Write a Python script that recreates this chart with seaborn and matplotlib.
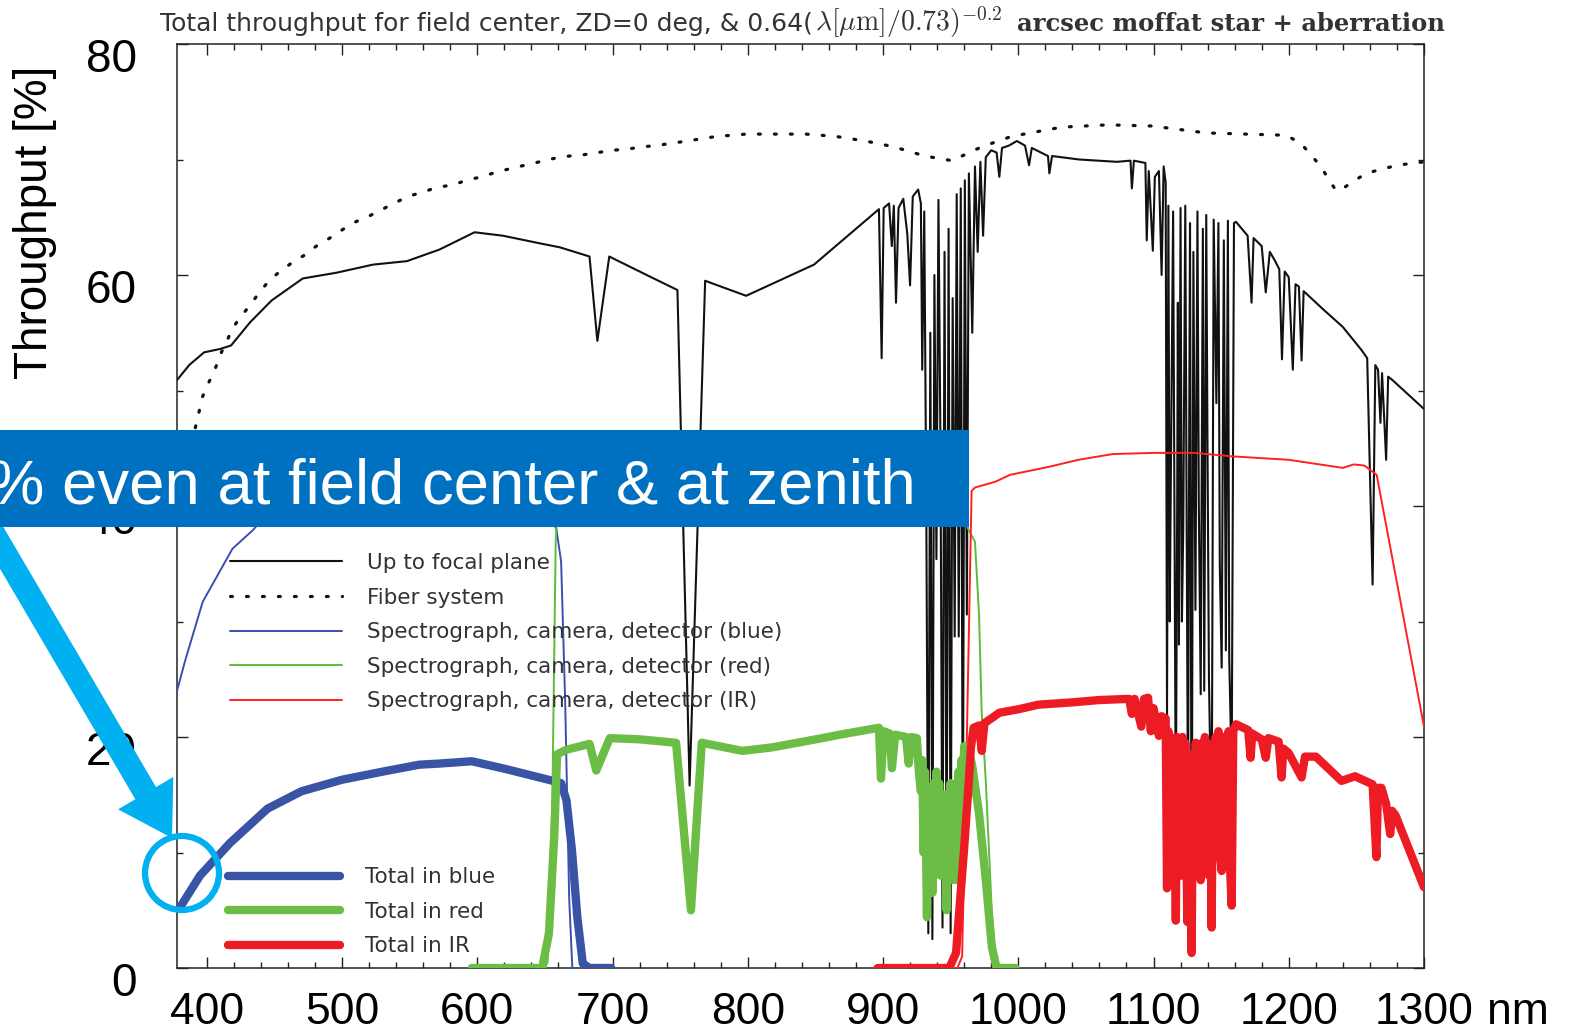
import matplotlib
matplotlib.use("Agg")
import numpy as np
import matplotlib.pyplot as plt
import seaborn as sns
from matplotlib.patches import Rectangle, Circle, FancyArrow
from matplotlib.lines import Line2D
from matplotlib.transforms import IdentityTransform, ScaledTranslation

# ---------------- data (wavelength nm, throughput %) ----------------
focal = [(378, 50.9), (387, 52.2), (398, 53.3), (410, 53.6), (418, 53.9), (432, 55.9), (448, 57.8),
         (471, 59.7), (496, 60.2), (523, 60.9), (548, 61.2), (572, 62.2), (598, 63.7), (619, 63.4),
         (648, 62.7), (661, 62.4), (683, 61.6), (688.8, 54.3), (697.6, 61.6), (727, 59.9), (748, 58.7),
         (757, 15.8), (768.5, 59.5), (798.8, 58.2), (849, 60.9), (897, 65.7), (899, 52.8), (900.5, 65.8),
         (904.5, 66.2), (906.5, 62.5), (908, 66.0), (909.6, 57.6), (911.5, 65.8), (915, 66.6), (918, 63.5),
         (920, 59.1), (922, 66.8), (926, 67.4), (928, 66.2), (929, 51.8), (930.5, 65.5), (932, 40.0),
         (933.5, 3.0), (935, 55.0), (936.5, 2.5), (938, 60.0), (939.5, 35.4), (941, 66.5), (942.5, 45.0),
         (944, 3.5), (945.5, 62.0), (947, 5.0), (948.5, 64.0), (950, 3.0), (951.5, 58.0), (953, 28.7),
         (954.5, 67.0), (956, 28.7), (957.5, 67.5), (959, 8.0), (960.5, 68.2), (962, 30.6), (963.5, 68.8),
         (966, 55.0), (968, 69.4), (970, 62.0), (972, 69.8), (974, 63.4), (976, 70.2), (980, 70.8),
         (984, 70.6), (986, 68.5), (988, 71.0), (993, 71.2), (999, 71.6), (1005, 71.2), (1008, 69.5),
         (1010, 71.0), (1022, 70.3), (1023, 68.8), (1025, 70.3), (1045, 70.0), (1073, 69.8), (1083, 69.9),
         (1084, 67.5), (1085.5, 69.9), (1094, 69.7), (1095, 63.0), (1096.5, 69.0), (1099.5, 62.1),
         (1101, 68.5), (1104, 69.0), (1106, 60.0), (1107.5, 69.4), (1109, 68.0), (1110, 21.6),
         (1111, 66.0), (1112, 30.0), (1113, 45.0), (1114.5, 65.5), (1116.5, 13.0), (1117.5, 40.0),
         (1118, 57.6), (1118.8, 28.0), (1120, 65.8), (1121, 30.0), (1122, 38.0), (1123.5, 66.0),
         (1125.5, 12.5), (1126.5, 50.0), (1127, 64.5), (1128.2, 4.0), (1129.5, 62.0), (1131, 31.0),
         (1132.5, 65.5), (1133.5, 40.2), (1134.9, 23.7), (1136.5, 64.0), (1137.5, 24.0), (1139, 65.2),
         (1140, 43.7), (1141, 25.0), (1143, 11.0), (1144.5, 64.8), (1146.5, 48.9), (1148, 64.5),
         (1149, 35.0), (1150.4, 26.0), (1152, 63.0), (1153.5, 27.5), (1155, 64.7), (1156, 26.8),
         (1157.8, 17.0), (1159.5, 64.5), (1161, 64.6), (1169.6, 63.4), (1172.5, 57.6), (1174, 63.2),
         (1180, 62.5), (1183, 58.5), (1186, 62.0), (1189.5, 61.3), (1193, 60.5), (1195, 52.7), (1197, 60.3),
         (1200, 59.8), (1203, 51.8), (1205, 59.2), (1207.5, 59.0), (1209.5, 52.6), (1211, 58.6),
         (1225.7, 57.0), (1240, 55.5), (1253.8, 53.5), (1258, 52.8), (1262, 33.2), (1264, 52.2),
         (1266, 51.8), (1267.8, 47.2), (1269, 51.5), (1272, 44.0), (1273.5, 51.2), (1276.7, 50.9),
         (1300, 48.4)]

fiber = [(380, 40.0), (386, 44.0), (392, 47.0), (397, 49.5), (401.5, 50.7), (406, 51.8), (410, 53.1),
         (415, 54.3), (419, 55.4), (426, 56.5), (432, 57.4), (439, 58.5), (446, 59.5), (454, 60.3),
         (463.5, 61.1), (472, 61.7), (481, 62.5), (491, 63.2), (500, 63.9), (510, 64.6), (520, 65.1),
         (530, 65.7), (540, 66.3), (549, 66.8), (560, 67.2), (571, 67.6), (582, 67.8), (592, 68.2),
         (603, 68.5), (614, 68.9), (624, 69.2), (635, 69.5), (646, 69.8), (657, 70.1), (668, 70.3),
         (678, 70.4), (689, 70.6), (700, 70.8), (711, 70.9), (722, 71.1), (732, 71.2), (755, 71.6),
         (777, 72.0), (799, 72.2), (821, 72.2), (843, 72.2), (865, 72.0), (887, 71.6), (908, 71.1),
         (931, 70.3), (951, 69.9), (973, 71.1), (995, 72.0), (1032, 72.8), (1066, 73.0), (1099, 72.9),
         (1139, 72.3), (1198, 72.1), (1209, 71.4), (1223, 69.5), (1235, 67.3), (1240, 67.5),
         (1257, 68.8), (1280, 69.5), (1300, 69.8)]

spec_blue = [(378, 24.0), (384, 26.6), (397, 31.7), (419, 36.3), (434, 37.9), (450, 40.0), (480, 40.8),
             (520, 41.5), (560, 42.5), (600, 41.6), (630, 41.0), (650, 40.0), (658.5, 38.0), (662, 35.2),
             (665, 23.1), (668, 5.9), (670.3, 0.0), (700, 0.0)]

spec_red = [(596, 0.0), (650, 0.0), (652, 0.5), (655.5, 14.5), (658, 36.9), (660, 41.5), (670, 43.5),
            (700, 45.5), (750, 46.2), (800, 45.8), (850, 45.2), (900, 44.2), (940, 42.0), (958, 40.0),
            (963, 38.0), (968, 36.9), (971, 30.6), (973, 22.0), (976, 16.2), (980.5, 4.7), (983.5, 0.0),
            (998, 0.0)]

spec_ir = [(896, 0.0), (955, 0.0), (958.5, 1.0), (962, 20.0), (965.5, 41.3), (968, 41.6), (983, 42.1),
           (994, 42.7), (1023, 43.4), (1044.5, 44.0), (1070, 44.5), (1101, 44.6), (1130, 44.6),
           (1158, 44.3), (1200, 44.0), (1240, 43.3), (1248, 43.6), (1256, 43.5), (1265, 42.7), (1300, 20.9)]

total_blue = [(380, 5.2), (395, 8.0), (417, 10.8), (445, 13.8), (470, 15.3), (500, 16.3), (530, 17.0),
              (557, 17.6), (572, 17.7), (596, 17.9), (622, 17.2), (656, 16.2), (662, 16.0), (666, 14.5),
              (670, 10.2), (674, 4.4), (678, 0.4), (683, 0.0), (699, 0.0)]

total_red = [(596, 0.0), (648, 0.0), (653, 3.0), (657, 11.6), (659, 18.5), (666, 18.9), (683, 19.4),
             (688, 17.1), (698, 19.9), (720, 19.8), (747, 19.5), (758, 5.0), (766, 19.5), (796, 18.8),
             (818, 19.1), (855, 19.9), (868, 20.2), (897, 20.8), (898.5, 16.4), (900.5, 20.5), (905, 20.3),
             (906.6, 17.3), (909, 20.2), (917, 20.0), (919, 17.7), (921, 20.0), (925, 19.9), (926.5, 17.0),
             (928, 15.3), (929, 18.0), (930, 10.0), (931, 17.0), (932.5, 4.4), (933.5, 15.0), (934.5, 8.0),
             (935.5, 14.0), (936.5, 6.5), (937.5, 16.0), (938.5, 10.0), (939.5, 17.0), (940.5, 9.9),
             (941.5, 16.0), (942.5, 8.0), (943.5, 12.0), (944.5, 10.0), (945.5, 15.0), (947, 5.0),
             (948, 14.0), (949, 9.0), (950, 16.0), (951, 7.6), (952, 15.0), (953, 9.0), (954, 16.0),
             (954.8, 7.6), (955.8, 17.0), (957, 11.0), (958, 18.0), (959, 14.0), (960, 19.2), (962, 19.1),
             (965.7, 17.7), (971, 13.4), (976, 7.6), (980.5, 1.8), (984, 0.0), (998, 0.0)]

total_ir = [(896, 0.0), (949, 0.0), (954, 1.3), (960, 10.4), (963.5, 16.2), (965, 19.1), (967, 20.8),
            (971, 21.0), (973, 18.8), (975, 21.2), (980, 21.6), (986, 22.1), (1000, 22.4), (1015, 22.8),
            (1040, 23.0), (1060, 23.2), (1082, 23.3), (1084, 22.0), (1086, 23.3), (1091, 20.9),
            (1093, 23.3), (1096, 23.4), (1098, 20.5), (1100, 22.5), (1104, 20.1), (1106, 21.8),
            (1109, 21.6), (1110, 6.9), (1111, 20.5), (1112, 9.5), (1113, 20.0), (1114, 8.5), (1115, 19.5),
            (1116.5, 4.1), (1117.5, 20.0), (1118.5, 9.0), (1119.5, 19.0), (1120.5, 8.0), (1121.5, 20.0),
            (1122.5, 10.0), (1123.5, 19.5), (1125, 4.0), (1126, 18.0), (1127, 8.0), (1128.2, 1.3),
            (1129.3, 18.5), (1130.3, 9.0), (1131.3, 19.5), (1132.3, 10.0), (1133.3, 19.0), (1134.9, 7.6),
            (1136, 19.5), (1137, 9.5), (1138, 20.0), (1139, 11.0), (1140, 19.5), (1141, 8.0), (1142, 18.0),
            (1143, 3.5), (1144, 19.0), (1145, 10.5), (1146, 20.0), (1147, 12.0), (1148, 20.5),
            (1149, 10.0), (1150.4, 8.4), (1151.5, 20.0), (1152.5, 10.5), (1153.5, 20.0), (1154.5, 11.5),
            (1155.5, 20.5), (1156.5, 9.0), (1157.8, 5.4), (1159, 20.5), (1161, 21.1), (1170, 20.6),
            (1171.8, 18.2), (1173, 20.3), (1180, 19.8), (1183, 18.2), (1185, 19.9), (1192.5, 19.6),
            (1194.7, 16.5), (1196, 19.0), (1200, 18.6), (1209.5, 16.5), (1212, 18.3), (1220, 18.3),
            (1230, 17.2), (1239, 16.2), (1249, 16.6), (1262, 15.9), (1264.8, 9.6), (1266, 15.6),
            (1268.5, 15.6), (1272, 14.2), (1275, 11.6), (1276.5, 13.6), (1279, 13.2), (1300, 7.0)]

x_tick_vals = [400, 500, 600, 700, 800, 900, 1000, 1100, 1200, 1300]
x_tick_labels = ["400", "500", "600", "700", "800", "900", "1000", "1100", "1200", "1300"]
y_tick_vals = [0, 20, 40, 60, 80]
y_tick_labels = ["0", "20", "40", "60", "80"]

legend1_labels = ["Up to focal plane", "Fiber system", "Spectrograph, camera, detector (blue)",
                  "Spectrograph, camera, detector (red)", "Spectrograph, camera, detector (IR)"]
legend2_labels = ["Total in blue", "Total in red", "Total in IR"]

title_left = "Total throughput for field center, ZD=0 deg, & 0.64("
title_math = r"$\lambda[\mu{\rm m}]/0.73)^{-0.2}$"
title_right = "arcsec moffat star + aberration"
banner_text = "% even at field center & at zenith"

# ---------------- styles ----------------
C_BLACK = "#111111"
C_BLUE_T, C_GREEN_T, C_RED_T = "#3b4fb0", "#5dbb3c", "#ff2020"
C_BLUE, C_GREEN, C_RED = "#3953a5", "#6cbd45", "#ed1c24"
DOT = (0, (0.6, 4.4))

sns.set_theme(style="ticks")
plt.rcParams["font.family"] = ["Liberation Sans", "DejaVu Sans"]
plt.rcParams["axes.linewidth"] = 1.1
plt.rcParams["axes.edgecolor"] = "#222222"

W, H = 1573, 1035
fig = plt.figure(figsize=(W / 100, H / 100), dpi=100)
fig.patch.set_facecolor("white")
ax = fig.add_axes([177 / W, 1 - 968 / H, (1424 - 177) / W, (968 - 44) / H])
ax.set_facecolor("white")


def draw(series, color, lw, z, ls="-"):
    xs, ys = zip(*series)
    sns.lineplot(x=list(xs), y=list(ys), ax=ax, color=color, lw=lw, sort=False,
                 estimator=None, zorder=z)
    ln = ax.lines[-1]
    ln.set_solid_joinstyle("round")
    ln.set_solid_capstyle("round")
    if ls != "-":
        ln.set_linestyle(ls)
        ln.set_dash_capstyle("round")


draw(focal, C_BLACK, 1.5, 2)
draw(fiber, C_BLACK, 2.3, 2, DOT)
draw(spec_blue, C_BLUE_T, 1.4, 3)
draw(spec_red, C_GREEN_T, 1.4, 3)
draw(spec_ir, C_RED_T, 1.4, 3)
draw(total_blue, C_BLUE, 6.0, 4)
draw(total_red, C_GREEN, 6.0, 4)
draw(total_ir, C_RED, 6.0, 4)

ax.set_xlim(378, 1300)
ax.set_ylim(0, 80)
ax.set_xlabel("")
ax.set_ylabel("")
ax.set_xticks(x_tick_vals)
ax.set_xticklabels(x_tick_labels)
ax.set_xticks(list(range(400, 1301, 20)), minor=True)
ax.set_yticks(y_tick_vals)
ax.set_yticklabels(y_tick_labels)
ax.set_yticks([10, 30, 50, 70], minor=True)
ax.tick_params(which="both", direction="in", top=True, right=True, color="#222222", width=1.0)
ax.tick_params(which="major", length=8)
ax.tick_params(which="minor", length=4)
ax.tick_params(axis="x", which="major", pad=17, labelsize=32, labelcolor="black")
ax.tick_params(axis="y", which="major", pad=29, labelsize=33, labelcolor="black")
for s in ax.spines.values():
    s.set_visible(True)
    s.set_color("#222222")

# shift y tick labels slightly down (as on the slide)
off = ScaledTranslation(0, -0.11, fig.dpi_scale_trans)
for lbl in ax.get_yticklabels():
    lbl.set_transform(lbl.get_transform() + off)

# legends
lp = {"family": "DejaVu Sans", "size": 15.5}
h1 = [Line2D([], [], color=C_BLACK, lw=1.5),
      Line2D([], [], color=C_BLACK, lw=2.3, linestyle=DOT, dash_capstyle="round"),
      Line2D([], [], color=C_BLUE_T, lw=1.4),
      Line2D([], [], color=C_GREEN_T, lw=1.4),
      Line2D([], [], color=C_RED_T, lw=1.4)]
leg1 = ax.legend(h1, legend1_labels, loc="upper left", bbox_to_anchor=(0.0425, 0.4492), frameon=False,
                 prop=lp, handlelength=5.2, handletextpad=1.16, labelspacing=0.68, borderpad=0,
                 borderaxespad=0)
for t in leg1.get_texts():
    t.set_color("#333333")
ax.add_artist(leg1)
h2 = [Line2D([], [], color=c, lw=6.0, solid_capstyle="round") for c in (C_BLUE, C_GREEN, C_RED)]
leg2 = ax.legend(h2, legend2_labels, loc="upper left", bbox_to_anchor=(0.041, 0.1092), frameon=False,
                 prop=lp, handlelength=5.2, handletextpad=1.16, labelspacing=0.68, borderpad=0,
                 borderaxespad=0)
for t in leg2.get_texts():
    t.set_color("#333333")

# y label
fig.text(35 / W, 1 - 222 / H, "Throughput [%]", rotation=90, ha="center", va="center", fontsize=33,
         color="black")

# title pieces
fig.canvas.draw()
r = fig.canvas.get_renderer()
t1 = fig.text(160 / W, 1 - 31 / H, title_left, fontsize=18, family="DejaVu Sans", color="#333333",
              va="baseline", ha="left")
bb = t1.get_window_extent(r)
fig.text((bb.x1 + 2) / W, 1 - 31 / H, title_math, fontsize=20, math_fontfamily="cm", color="#333333",
         va="baseline", ha="left")
fig.text(1445 / W, 1 - 31 / H, title_right, fontsize=17.5, family="DejaVu Serif", weight="bold",
         color="#333333", va="baseline", ha="right")

# "nm" after last tick label
fig.canvas.draw()
lbl_last = ax.get_xticklabels()[-1].get_window_extent(r)
fig.text((lbl_last.x1 + 14) / W, lbl_last.y0 / H, "nm", fontsize=32, color="black", va="bottom",
         ha="left")

# slide overlays (figure pixel coordinates)
fig.add_artist(FancyArrow(-10, H - 528, 182, -310, width=24, head_width=64, head_length=52,
                          length_includes_head=True, color="#00b0f0", lw=0,
                          transform=IdentityTransform(), zorder=9))
fig.add_artist(Circle((182, H - 873), 37, fill=False, edgecolor="#00b0f0", lw=4.5,
                      transform=IdentityTransform(), zorder=9))
fig.add_artist(Rectangle((0, H - 527), 969, 97, facecolor="#0070c0", edgecolor="none",
                         transform=IdentityTransform(), zorder=10))
fig.text(-12 / W, 1 - 503 / H, banner_text, fontsize=45.6, color="white", va="baseline", ha="left",
         zorder=11)

fig.savefig("out.png", dpi=100)
